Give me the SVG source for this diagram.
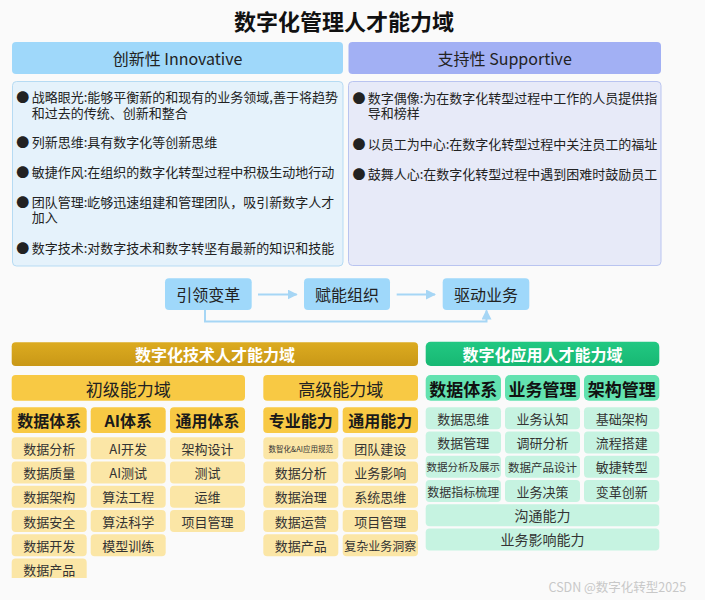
<svg xmlns="http://www.w3.org/2000/svg" width="705" height="600" viewBox="0 0 705 600">
<style>
text{font-family:"Noto Sans CJK SC","Noto Sans",sans-serif;dominant-baseline:central;}
.c{text-anchor:middle;}
.title{font-size:22px;font-weight:700;fill:#111;}
.hdr{font-size:16px;fill:#222;}
.bl{font-size:13px;fill:#222;}
.flow{fill:#9fd8fa;}
.flowt{font-size:16px;fill:#222;}
.gold{fill:#f8c944;}
.goldi{fill:#fbe6a6;}
.mint{fill:#63e2b0;}
.minti{fill:#c6f3e1;}
.sub{font-size:16px;font-weight:700;fill:#1a1a1a;}
.it{font-size:13px;fill:#333;}
.ban{font-size:16px;font-weight:700;fill:#fff;}
</style>
<defs>
<marker id="ah" viewBox="0 0 10 10" refX="9" refY="5" markerWidth="10" markerHeight="10" markerUnits="userSpaceOnUse" orient="auto">
<path d="M0,0 L10,5 L0,10 z" fill="#a6d6f5"/>
</marker>
<linearGradient id="gg" x1="0" y1="0" x2="0" y2="1"><stop offset="0" stop-color="#dcab20"/><stop offset="1" stop-color="#c99817"/></linearGradient>
<linearGradient id="gr" x1="0" y1="0" x2="0" y2="1"><stop offset="0" stop-color="#22c882"/><stop offset="1" stop-color="#17b873"/></linearGradient>
</defs>
<rect width="705" height="600" fill="#fafafa"/>
<text class="title c" x="344" y="20">数字化管理人才能力域</text>

<g id="innovative">
<rect x="12" y="42" width="331" height="32" rx="4" fill="#9fd8fa"/>
<text class="hdr c" x="177.5" y="58">创新性 Innovative</text>
<rect x="12.5" y="81.5" width="330.5" height="184.5" rx="4" fill="#e5f2fb" stroke="#b6dbf3"/>
<text class="bl c" x="22.7" y="96.5">●</text><text class="bl" x="31.7" y="96.5">战略眼光:能够平衡新的和现有的业务领域,善于将趋势<tspan x="31.7" dy="15">和过去的传统、创新和整合</tspan></text>
<text class="bl c" x="22.7" y="141">●</text><text class="bl" x="31.7" y="141">列新思维:具有数字化等创新思维</text>
<text class="bl c" x="22.7" y="171.5">●</text><text class="bl" x="31.7" y="171.5">敏捷作风:在组织的数字化转型过程中积极生动地行动</text>
<text class="bl c" x="22.7" y="201">●</text><text class="bl" x="31.7" y="201">团队管理:屹够迅速组建和管理团队，吸引新数字人才<tspan x="31.7" dy="15">加入</tspan></text>
<text class="bl c" x="22.7" y="247.5">●</text><text class="bl" x="31.7" y="247.5">数字技术:对数字技术和数字转坚有最新的知识和技能</text>
</g>

<g id="supportive">
<rect x="348.5" y="42" width="312.5" height="32" rx="4" fill="#a2b0f4"/>
<text class="hdr c" x="504.7" y="58">支持性 Supportive</text>
<rect x="348.5" y="81.5" width="312.5" height="184" rx="4" fill="#e7eaf8" stroke="#b9c4f0"/>
<text class="bl c" x="359" y="97">●</text><text class="bl" x="367.7" y="97">数字偶像:为在数字化转型过程中工作的人员提供指<tspan x="367.7" dy="15">导和榜样</tspan></text>
<text class="bl c" x="359" y="143">●</text><text class="bl" x="367.7" y="143">以员工为中心:在数字化转型过程中关注员工的福址</text>
<text class="bl c" x="359" y="173">●</text><text class="bl" x="367.7" y="173">鼓舞人心:在数字化转型过程中遇到困难时鼓励员工</text>
</g>

<g id="flow-lead"><rect class="flow" x="165" y="278.3" width="86.7" height="31.7" rx="4"/><text class="flowt c" x="208.3" y="294.2">引领变革</text></g>
<g id="flow-enable"><rect class="flow" x="304" y="278.3" width="86" height="31.7" rx="4"/><text class="flowt c" x="347" y="294.2">赋能组织</text></g>
<g id="flow-drive"><rect class="flow" x="442.7" y="278.3" width="86.6" height="31.7" rx="4"/><text class="flowt c" x="486" y="294.2">驱动业务</text></g>

<g id="connectors" fill="none" stroke="#a6d6f5" stroke-width="2">
<line x1="258" y1="294.5" x2="296.7" y2="294.5" marker-end="url(#ah)"/>
<line x1="396.7" y1="294.5" x2="435" y2="294.5" marker-end="url(#ah)"/>
<path d="M205,310 V321.5 H486.5 V310.5" marker-end="url(#ah)"/>
</g>

<g id="tech">
<rect x="11.7" y="342.3" width="406.3" height="23.7" rx="4" fill="url(#gg)"/>
<text class="ban c" x="215" y="354.2">数字化技术人才能力域</text>
</g>
<g id="junior">
<rect class="gold" x="11.7" y="375" width="233.3" height="25.7" rx="4"/>
<text class="c" x="128.3" y="388" style="font-size:17px;fill:#222">初级能力域</text>
</g>
<g id="senior">
<rect class="gold" x="263.3" y="375" width="154.7" height="25.7" rx="4"/>
<text class="c" x="340.7" y="388" style="font-size:17px;fill:#222">高级能力域</text>
</g>

<g id="tech-cols">
<rect class="gold" x="11.7" y="407.3" width="75" height="25.7" rx="4"/><text class="sub c" x="49.2" y="420.2">数据体系</text>
<rect class="gold" x="90.7" y="407.3" width="75" height="25.7" rx="4"/><text class="sub c" x="128.2" y="420.2">AI体系</text>
<rect class="gold" x="170" y="407.3" width="75" height="25.7" rx="4"/><text class="sub c" x="207.5" y="420.2">通用体系</text>
<rect class="gold" x="263.3" y="407.3" width="75" height="25.7" rx="4"/><text class="sub c" x="300.8" y="420.2">专业能力</text>
<rect class="gold" x="342.7" y="407.3" width="75.3" height="25.7" rx="4"/><text class="sub c" x="380.3" y="420.2">通用能力</text>
</g>

<g id="tech-items">
<rect class="goldi" x="11.7" y="437.3" width="75" height="22" rx="4"/><text class="it c" x="49.2" y="448.3">数据分析</text>
<rect class="goldi" x="11.7" y="461.5" width="75" height="22" rx="4"/><text class="it c" x="49.2" y="472.5">数据质量</text>
<rect class="goldi" x="11.7" y="485.7" width="75" height="22" rx="4"/><text class="it c" x="49.2" y="496.7">数据架构</text>
<rect class="goldi" x="11.7" y="510" width="75" height="22" rx="4"/><text class="it c" x="49.2" y="521">数据安全</text>
<rect class="goldi" x="11.7" y="534.2" width="75" height="22" rx="4"/><text class="it c" x="49.2" y="545.2">数据开发</text>
<path class="goldi" d="M11.7,562.4 a4,4 0 0 1 4,-4 h67 a4,4 0 0 1 4,4 V578 H11.7 z"/><text class="it c" x="49.2" y="569.4">数据产品</text>

<rect class="goldi" x="90.7" y="437.3" width="75" height="22" rx="4"/><text class="it c" x="128.2" y="448.3">AI开发</text>
<rect class="goldi" x="90.7" y="461.5" width="75" height="22" rx="4"/><text class="it c" x="128.2" y="472.5">AI测试</text>
<rect class="goldi" x="90.7" y="485.7" width="75" height="22" rx="4"/><text class="it c" x="128.2" y="496.7">算法工程</text>
<rect class="goldi" x="90.7" y="510" width="75" height="22" rx="4"/><text class="it c" x="128.2" y="521">算法科学</text>
<rect class="goldi" x="90.7" y="534.2" width="75" height="22" rx="4"/><text class="it c" x="128.2" y="545.2">模型训练</text>

<rect class="goldi" x="170" y="437.3" width="75" height="22" rx="4"/><text class="it c" x="207.5" y="448.3">架构设计</text>
<rect class="goldi" x="170" y="461.5" width="75" height="22" rx="4"/><text class="it c" x="207.5" y="472.5">测试</text>
<rect class="goldi" x="170" y="485.7" width="75" height="22" rx="4"/><text class="it c" x="207.5" y="496.7">运维</text>
<rect class="goldi" x="170" y="510" width="75" height="22" rx="4"/><text class="it c" x="207.5" y="521">项目管理</text>

<rect class="goldi" x="263.3" y="437.3" width="75" height="22" rx="4"/><text class="it c" x="300.8" y="448.3" style="font-size:7.5px">数智化&amp;AI应用规范</text>
<rect class="goldi" x="263.3" y="461.5" width="75" height="22" rx="4"/><text class="it c" x="300.8" y="472.5">数据分析</text>
<rect class="goldi" x="263.3" y="485.7" width="75" height="22" rx="4"/><text class="it c" x="300.8" y="496.7">数据治理</text>
<rect class="goldi" x="263.3" y="510" width="75" height="22" rx="4"/><text class="it c" x="300.8" y="521">数据运营</text>
<rect class="goldi" x="263.3" y="534.2" width="75" height="22" rx="4"/><text class="it c" x="300.8" y="545.2">数据产品</text>

<rect class="goldi" x="342.7" y="437.3" width="75.3" height="22" rx="4"/><text class="it c" x="380.3" y="448.3">团队建设</text>
<rect class="goldi" x="342.7" y="461.5" width="75.3" height="22" rx="4"/><text class="it c" x="380.3" y="472.5">业务影响</text>
<rect class="goldi" x="342.7" y="485.7" width="75.3" height="22" rx="4"/><text class="it c" x="380.3" y="496.7">系统思维</text>
<rect class="goldi" x="342.7" y="510" width="75.3" height="22" rx="4"/><text class="it c" x="380.3" y="521">项目管理</text>
<rect class="goldi" x="342.7" y="534.2" width="75.3" height="22" rx="4"/><text class="it c" x="380.3" y="545.2" style="font-size:12px">复杂业务洞察</text>
</g>

<g id="app">
<rect x="425.7" y="341.7" width="233.6" height="24.3" rx="5" fill="url(#gr)"/>
<text class="ban c" x="542.5" y="353.8">数字化应用人才能力域</text>
</g>
<g id="app-cols">
<rect class="mint" x="425.7" y="375" width="75.3" height="25.7" rx="5"/><text class="c" x="463.3" y="388" style="font-size:17px;font-weight:700;fill:#111">数据体系</text>
<rect class="mint" x="505" y="375" width="75" height="25.7" rx="5"/><text class="c" x="542.5" y="388" style="font-size:17px;font-weight:700;fill:#111">业务管理</text>
<rect class="mint" x="584" y="375" width="75.3" height="25.7" rx="5"/><text class="c" x="621.7" y="388" style="font-size:17px;font-weight:700;fill:#111">架构管理</text>
</g>
<g id="app-items">
<rect class="minti" x="425.7" y="407.3" width="75.3" height="22" rx="4"/><text class="it c" x="463.3" y="418.3">数据思维</text>
<rect class="minti" x="425.7" y="431.5" width="75.3" height="22" rx="4"/><text class="it c" x="463.3" y="442.5">数据管理</text>
<rect class="minti" x="425.7" y="455.7" width="75.3" height="22" rx="4"/><text class="it c" x="463.3" y="466.7" style="font-size:10.5px">数据分析及展示</text>
<rect class="minti" x="425.7" y="480" width="75.3" height="22" rx="4"/><text class="it c" x="463.3" y="491" style="font-size:12px">数据指标梳理</text>

<rect class="minti" x="505" y="407.3" width="75" height="22" rx="4"/><text class="it c" x="542.5" y="418.3">业务认知</text>
<rect class="minti" x="505" y="431.5" width="75" height="22" rx="4"/><text class="it c" x="542.5" y="442.5">调研分析</text>
<rect class="minti" x="505" y="455.7" width="75" height="22" rx="4"/><text class="it c" x="542.5" y="466.7" style="font-size:11.5px">数据产品设计</text>
<rect class="minti" x="505" y="480" width="75" height="22" rx="4"/><text class="it c" x="542.5" y="491">业务决策</text>

<rect class="minti" x="584" y="407.3" width="75.3" height="22" rx="4"/><text class="it c" x="621.7" y="418.3">基础架构</text>
<rect class="minti" x="584" y="431.5" width="75.3" height="22" rx="4"/><text class="it c" x="621.7" y="442.5">流程搭建</text>
<rect class="minti" x="584" y="455.7" width="75.3" height="22" rx="4"/><text class="it c" x="621.7" y="466.7">敏捷转型</text>
<rect class="minti" x="584" y="480" width="75.3" height="22" rx="4"/><text class="it c" x="621.7" y="491">变革创新</text>

<rect class="minti" x="425.7" y="504.2" width="233.6" height="22" rx="4"/><text class="it c" x="542.5" y="515.2" style="font-size:14px">沟通能力</text>
<rect class="minti" x="425.7" y="528.4" width="233.6" height="22" rx="4"/><text class="it c" x="542.5" y="539.4" style="font-size:14px">业务影响能力</text>
</g>

<text x="548.5" y="586.5" style="font-size:12.5px;fill:#c8c8c8">CSDN @数字化转型2025</text>
</svg>
